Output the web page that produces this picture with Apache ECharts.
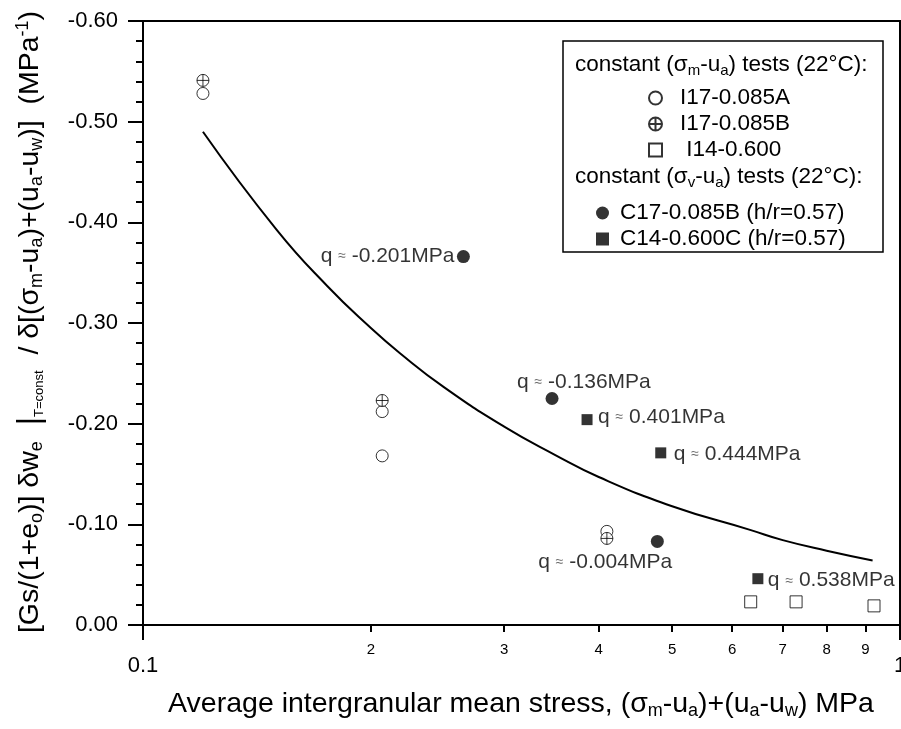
<!DOCTYPE html>
<html>
<head>
<meta charset="utf-8">
<script src="https://cdn.jsdelivr.net/npm/echarts@6/dist/echarts.min.js"></script>
<style>
html, body { margin: 0; padding: 0; background: #fff; }
#main { width: 901px; height: 729px; }
</style>
</head>
<body>
<div id="main"></div>
<script>
// fitted curve
var fitX = [0.120, 0.15, 0.175, 0.2, 0.2185, 0.25, 0.3, 0.35, 0.4, 0.5, 0.6337, 0.7, 0.8, 0.92];
var fitY = [-0.490, -0.393, -0.337, -0.295, -0.270, -0.236, -0.197, -0.169, -0.147, -0.118, -0.0945, -0.0843, -0.0738, -0.0641];

// constant (sm-ua) tests
var openCircleX = [0.120, 0.207, 0.207, 0.410];
var openCircleY = [-0.528, -0.212, -0.168, -0.093];
var crossCircleX = [0.120, 0.207, 0.410];
var crossCircleY = [-0.541, -0.223, -0.086];
var openSquareX = [0.635, 0.729, 0.924];
var openSquareY = [-0.023, -0.023, -0.019];

// constant (sv-ua) tests
var filledCircleX = [0.265, 0.347, 0.478];
var filledCircleY = [-0.366, -0.225, -0.083];
var filledCircleQ = ['-0.201', '-0.136', '-0.004'];
var filledSquareX = [0.386, 0.483, 0.649];
var filledSquareY = [-0.204, -0.171, -0.046];
var filledSquareQ = ['0.401', '0.444', '0.538'];

var xMinorTicks = [0.2, 0.3, 0.4, 0.5, 0.6, 0.7, 0.8, 0.9];
var xMajorTicks = [0.1, 1];

var FONT = '"Liberation Sans", Arial, sans-serif';
var CROSS_CIRCLE = 'path://M10,0A10,10 0 1,1 10,20A10,10 0 1,1 10,0ZM0,10L20,10M10,0L10,20';

function pairs(xs, ys) {
	var out = [];
	for (var i = 0; i < xs.length; i++) {
		out.push([xs[i], ys[i]]);
	}
	return out;
}

// label placement of the q annotations: [align, dx, dy]
var circleLabelPlace = [['right', -9, 0], ['left', -35, -16], ['left', -119, 21]];
var squareLabelPlace = [['left', 11, -2], ['left', 13, 1], ['left', 10, 2]];

function qPoints(xs, ys, qs, place) {
	var out = [];
	for (var i = 0; i < xs.length; i++) {
		out.push({
			value: [xs[i], ys[i]],
			label: {
				show: true,
				position: 'inside',
				align: place[i][0],
				verticalAlign: 'middle',
				offset: [place[i][1], place[i][2]],
				formatter: 'q {a|≈} ' + qs[i] + 'MPa'
			}
		});
	}
	return out;
}

var qLabelStyle = {
	color: '#000',
	fontFamily: FONT,
	fontSize: 21,
	rich: {
		a: { fontSize: 14, color: '#444', fontFamily: FONT }
	}
};

var subStyle = { fontSize: 15, lineHeight: 15, verticalAlign: 'bottom', fontFamily: FONT };

var chart = echarts.init(document.getElementById('main'), null, { renderer: 'canvas' });

var option = {
	animation: false,
	backgroundColor: '#fff',
	textStyle: { fontFamily: FONT, color: '#000' },
	grid: {
		left: 143, right: 1, top: 21, bottom: 104,
		containLabel: false, outerBoundsMode: 'none',
		show: true, borderColor: '#000', borderWidth: 2, backgroundColor: 'transparent'
	},
	xAxis: [
		{
			type: 'log', logBase: 10, min: 0.1, max: 1, position: 'bottom',
			axisLine: { show: true, lineStyle: { color: '#000', width: 2 } },
			axisTick: { show: true, customValues: xMinorTicks, length: 7, lineStyle: { color: '#000', width: 2 } },
			axisLabel: {
				show: true, customValues: xMinorTicks, margin: 17,
				fontSize: 15, color: '#000', fontFamily: FONT,
				formatter: function (v) { return String(Math.round(v * 10)); }
			},
			splitLine: { show: false }
		},
		{
			type: 'log', logBase: 10, min: 0.1, max: 1, position: 'bottom',
			axisLine: { show: false },
			axisTick: { show: true, customValues: xMajorTicks, length: 15, lineStyle: { color: '#000', width: 2 } },
			axisLabel: {
				show: true, customValues: xMajorTicks, margin: 30,
				fontSize: 22, color: '#000', fontFamily: FONT,
				formatter: function (v) { return v < 0.5 ? '0.1' : '1'; }
			},
			splitLine: { show: false }
		}
	],
	yAxis: {
		type: 'value', min: -0.6, max: 0, interval: 0.1, inverse: true,
		axisLine: { show: true, lineStyle: { color: '#000', width: 2 } },
		axisTick: { show: true, length: 15, lineStyle: { color: '#000', width: 2 } },
		minorTick: { show: true, splitNumber: 5, length: 7, lineStyle: { color: '#000', width: 2 } },
		axisLabel: {
			margin: 25, fontSize: 22, color: '#000', fontFamily: FONT,
			formatter: function (v) { return Math.abs(v) < 1e-9 ? '0.00' : v.toFixed(2); }
		},
		splitLine: { show: false },
		minorSplitLine: { show: false }
	},
	legend: [
		{
			orient: 'vertical', left: 648, top: 85, padding: 0, itemGap: 0,
			itemWidth: 13, itemHeight: 13,
			data: ['I17-0.085A', 'I17-0.085B', 'I14-0.600'],
			formatter: function (name) { return name === 'I14-0.600' ? ' ' + name : name; },
			textStyle: { fontSize: 22.5, color: '#000', fontFamily: FONT, lineHeight: 26, padding: [0, 0, 0, 13] }
		},
		{
			orient: 'vertical', left: 596, top: 200, padding: 0, itemGap: 0,
			itemWidth: 13, itemHeight: 13,
			data: ['C17-0.085B (h/r=0.57)', 'C14-0.600C (h/r=0.57)'],
			textStyle: { fontSize: 22.5, color: '#000', fontFamily: FONT, lineHeight: 26, padding: [0, 0, 0, 6] }
		}
	],
	graphic: [
		{
			type: 'rect', z: 10,
			shape: { x: 563, y: 41, width: 320, height: 211 },
			style: { fill: 'none', stroke: '#000', lineWidth: 1.5 }
		},
		{
			type: 'text', z: 10, x: 575, y: 65,
			style: {
				text: 'constant (σ{s|m}-u{s|a}) tests (22°C):',
				font: '22.5px ' + FONT, fill: '#000', align: 'left', verticalAlign: 'middle', lineHeight: 26,
				rich: { s: subStyle }
			}
		},
		{
			type: 'text', z: 10, x: 575, y: 177,
			style: {
				text: 'constant (σ{s|v}-u{s|a}) tests (22°C):',
				font: '22.5px ' + FONT, fill: '#000', align: 'left', verticalAlign: 'middle', lineHeight: 26,
				rich: { s: subStyle }
			}
		},
		{
			type: 'text', z: 10, x: 521, y: 704,
			style: {
				text: 'Average intergranular mean stress, (σ{s|m}-u{s|a})+(u{s|a}-u{s|w}) MPa',
				font: '28.5px ' + FONT, fill: '#000', align: 'center', verticalAlign: 'middle', lineHeight: 32,
				rich: { s: { fontSize: 18, lineHeight: 18, verticalAlign: 'bottom', fontFamily: FONT } }
			}
		},
		{
			type: 'text', z: 10, x: 30, y: 322, rotation: Math.PI / 2,
			style: {
				text: '[Gs/(1+e{s|o})] δw{s|e}  {b||}{t|T=const}  / δ[(σ{s|m}-u{s|a})+(u{s|a}-u{s|w})]  (MPa{p|-1})',
				font: '28.5px ' + FONT, fill: '#000', align: 'center', verticalAlign: 'middle', lineHeight: 32,
				rich: {
					s: { fontSize: 18, lineHeight: 18, verticalAlign: 'bottom', fontFamily: FONT },
					t: { fontSize: 13, lineHeight: 14, verticalAlign: 'bottom', fontFamily: FONT },
					b: { fontSize: 32, lineHeight: 32, fontFamily: FONT },
					p: { fontSize: 18, lineHeight: 18, verticalAlign: 'top', fontFamily: FONT }
				}
			}
		}
	],
	series: [
		{
			name: 'fit', type: 'line', smooth: true, showSymbol: false, symbol: 'none',
			lineStyle: { color: '#000', width: 2 },
			data: pairs(fitX, fitY), z: 2, silent: true
		},
		{
			name: 'I17-0.085A', type: 'scatter', symbol: 'circle', symbolSize: 12,
			itemStyle: { color: '#fff', borderColor: '#000', borderWidth: 1 },
			data: pairs(openCircleX, openCircleY)
		},
		{
			name: 'I17-0.085B', type: 'scatter', symbol: CROSS_CIRCLE, symbolSize: 12,
			itemStyle: { color: '#fff', borderColor: '#000', borderWidth: 1 },
			data: pairs(crossCircleX, crossCircleY)
		},
		{
			name: 'I14-0.600', type: 'scatter', symbol: 'rect', symbolSize: 12,
			itemStyle: { color: '#fff', borderColor: '#000', borderWidth: 1 },
			data: pairs(openSquareX, openSquareY)
		},
		{
			name: 'C17-0.085B (h/r=0.57)', type: 'scatter', symbol: 'circle', symbolSize: 13,
			itemStyle: { color: '#000' },
			label: qLabelStyle,
			data: qPoints(filledCircleX, filledCircleY, filledCircleQ, circleLabelPlace)
		},
		{
			name: 'C14-0.600C (h/r=0.57)', type: 'scatter', symbol: 'rect', symbolSize: 11,
			itemStyle: { color: '#000' },
			label: qLabelStyle,
			data: qPoints(filledSquareX, filledSquareY, filledSquareQ, squareLabelPlace)
		}
	]
};

chart.setOption(option);
</script>
</body>
</html>
